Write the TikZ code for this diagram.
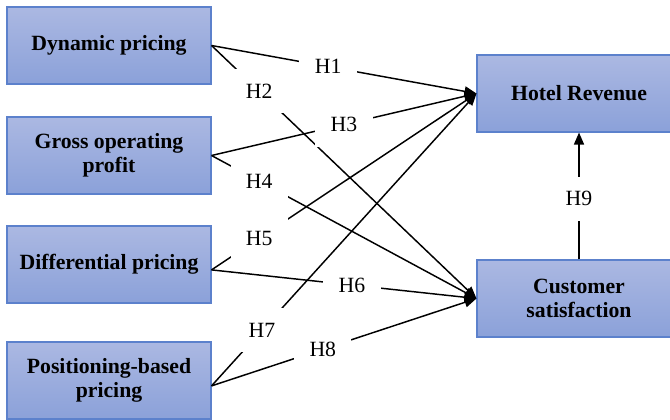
\documentclass[tikz,border=0pt]{standalone}
\usepackage{fontspec}
\setmainfont{Liberation Serif}
\usetikzlibrary{arrows.meta,positioning}
\definecolor{boxtop}{RGB}{171,184,226}
\definecolor{boxbottom}{RGB}{139,161,217}
\definecolor{boxline}{RGB}{92,129,204}

\begin{document}
\begin{tikzpicture}[
  x=0.75pt,y=-0.75pt,
  font=\fontsize{16.3}{18}\selectfont,
  hyp/.style={-{Triangle[length=9pt,width=7.5pt]},line width=1.1pt,draw=black},
  construct/.style={draw=boxline,line width=0.8pt,top color=boxtop,bottom color=boxbottom,
    minimum width=153pt,minimum height=57.75pt,align=center,font=\fontsize{16.3}{18}\selectfont\bfseries},
  hyplabel/.style={fill=white,minimum width=43pt,minimum height=33pt,inner sep=0pt}
]
\useasboundingbox (0,0) rectangle (670,419);

\node[construct] (dynamic) at (109,45.5) {Dynamic pricing};
\node[construct] (gop) at (109,155.5) {Gross operating\\profit};
\node[construct] (differential) at (109,264.5) {Differential pricing};
\node[construct] (positioning) at (109,380.5) {Positioning-based\\pricing};
\node[construct] (revenue) at (579,93.5) {Hotel Revenue};
\node[construct] (satisfaction) at (579,298.5) {Customer\\satisfaction};

% H2 goes before H3, whose label box breaks the H2 line
\draw[hyp] (dynamic.east) -- node[hyplabel,pos=.44] {H1} (revenue.west);
\draw[hyp] (dynamic.east) -- node[hyplabel,pos=.18] {H2} (satisfaction.west);
\draw[hyp] (gop.east) -- node[hyplabel,pos=.50] {H3} (revenue.west);
\draw[hyp] (gop.east) -- node[hyplabel,pos=.18] {H4} (satisfaction.west);
\draw[hyp] (differential.-3.4) -- node[hyplabel,pos=.18] {H5} (revenue.west);
\draw[hyp] (differential.-3.4) -- node[hyplabel,pos=.53] {H6} (satisfaction.west);
\draw[hyp] (positioning.-3.6) -- node[hyplabel,pos=.19] {H7} (revenue.west);
\draw[hyp] (positioning.-3.6) -- node[hyplabel,pos=.42] {H8} (satisfaction.west);
\draw[hyp] (satisfaction) -- node[hyplabel,pos=.48] {H9} (revenue);
\end{tikzpicture}
\end{document}
